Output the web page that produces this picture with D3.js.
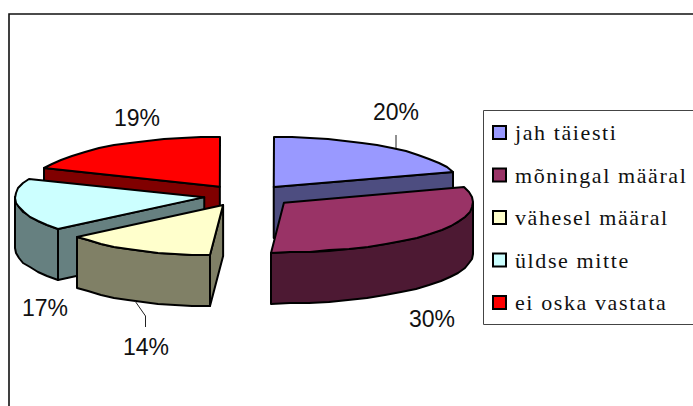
<!DOCTYPE html>
<html>
<head>
<meta charset="utf-8">
<script src="https://cdnjs.cloudflare.com/ajax/libs/d3/7.8.5/d3.min.js"></script>
<style>
body { margin: 0; background: #fff; }
svg { display: block; }
.pct { font-family: "Liberation Sans", sans-serif; font-size: 23px; fill: #111; text-anchor: middle; }
.leg { font-family: "Liberation Serif", serif; font-size: 22px; letter-spacing: 1.6px; fill: #111; }
</style>
</head>
<body>
<script>
var categories = ["jah täiesti", "mõningal määral", "vähesel määral", "üldse mitte", "ei oska vastata"];
var values = [20, 30, 14, 17, 19];
var labels = ["20%", "30%", "14%", "17%", "19%"];
var topColors = ["#9999ff", "#993366", "#ffffcc", "#ccffff", "#ff0000"];
var sideColors = ["#4d4d80", "#4d1933", "#808066", "#668080", "#800000"];

// label centres, in the same order as the categories
var labelX = [396, 432, 146, 45, 137];
var labelY = [120, 327, 355, 316, 126];

// small corrections to where each slice ends up
var nudgeX = [0, 0, -4, 3, -1];
var nudgeY = [0, 1, 0, 0, 0];

function init() {
    var w = 693, h = 406;
    var cx = 246.7, cy = 195.5;   // centre of the pie before the slices are pulled out
    var rx = 189, ry = 50;
    var depth = 51;
    var ex = 46, ey = 10.5;       // how far slices are pulled out

    var svg = d3.select("body").append("svg")
        .attr("width", w)
        .attr("height", h);

    // chart frame
    svg.append("path")
        .attr("d", "M9,406V14H693")
        .attr("fill", "none")
        .attr("stroke", "#111")
        .attr("stroke-width", 1.6);

    var slices = d3.pie().sort(null)(values);

    function apex(s) {
        var mid = (s.startAngle + s.endAngle) / 2;
        return [cx + ex * Math.sin(mid) + nudgeX[s.index], cy - ey * Math.cos(mid) + nudgeY[s.index]];
    }

    // point on the rim of a slice, the picture leans a bit near the bottom
    function rim(s, a, down) {
        var c = apex(s);
        var lean = -13 * Math.pow(Math.max(0, -Math.cos(a)), 6);
        return [Math.round(c[0] + rx * Math.sin(a) + lean), Math.round(c[1] - ry * Math.cos(a) + (down || 0))];
    }

    function arcPoints(s, a0, a1, down) {
        var n = Math.max(2, Math.round((a1 - a0) / 0.1));
        return d3.range(n + 1).map(function(i) {
            return rim(s, a0 + (a1 - a0) * i / n, down);
        });
    }

    var line = d3.line().curve(d3.curveLinear);

    function shape(points, fill) {
        svg.append("path")
            .attr("d", line(points) + "Z")
            .attr("fill", fill)
            .attr("stroke", "#000")
            .attr("stroke-width", 2)
            .attr("stroke-linejoin", "round");
    }

    // back to front
    [0, 4, 3, 2, 1].forEach(function(i) {
        var s = slices[i];
        var c = apex(s);
        var cBelow = [c[0], c[1] + depth];

        // cut faces that look towards us
        if (s.endAngle < Math.PI) {
            var e = rim(s, s.endAngle);
            shape([c, e, rim(s, s.endAngle, depth), cBelow], sideColors[i]);
        }
        if (s.startAngle >= Math.PI - 0.001) {
            var b = rim(s, s.startAngle);
            shape([c, b, rim(s, s.startAngle, depth), cBelow], sideColors[i]);
        }

        // outer wall, only the front half of the rim
        var a0 = Math.max(s.startAngle, Math.PI / 2);
        var a1 = Math.min(s.endAngle, 3 * Math.PI / 2);
        if (a1 > a0) {
            var upper = arcPoints(s, a0, a1, 0);
            var lower = arcPoints(s, a0, a1, depth).reverse();
            shape(upper.concat(lower), sideColors[i]);
        }

        // top
        shape([c].concat(arcPoints(s, s.startAngle, s.endAngle, 0)), topColors[i]);
    });

    // leader lines
    var leader = d3.line();
    svg.append("path")
        .attr("d", leader([[396, 135], [396, 148]]))
        .attr("fill", "none").attr("stroke", "#222").attr("stroke-width", 1);
    svg.append("path")
        .attr("d", leader([[135, 301], [145.5, 316], [145.5, 327]]))
        .attr("fill", "none").attr("stroke", "#222").attr("stroke-width", 1);

    // percent labels
    svg.selectAll(".pct")
        .data(labels)
        .enter()
        .append("text")
        .attr("class", "pct")
        .attr("x", function(d, i) { return labelX[i]; })
        .attr("y", function(d, i) { return labelY[i]; })
        .text(function(d) { return d; });

    // legend, its right side runs off the picture
    svg.append("path")
        .attr("d", "M693,110.5H483.5V324.5H693")
        .attr("fill", "#fff").attr("stroke", "#444");

    var yLegend = d3.scalePoint()
        .domain(categories)
        .range([133, 303]);

    var items = svg.selectAll(".item")
        .data(categories)
        .enter()
        .append("g")
        .attr("class", "item")
        .attr("transform", function(d) { return "translate(0," + yLegend(d) + ")"; });

    items.append("rect")
        .attr("x", 493).attr("y", -7)
        .attr("width", 13).attr("height", 13)
        .attr("fill", function(d, i) { return topColors[i]; })
        .attr("stroke", "#000")
        .attr("stroke-width", 2);

    items.append("text")
        .attr("class", "leg")
        .attr("x", 515)
        .attr("y", 7)
        .text(function(d) { return d; });
}

window.onload = init;
</script>
</body>
</html>
